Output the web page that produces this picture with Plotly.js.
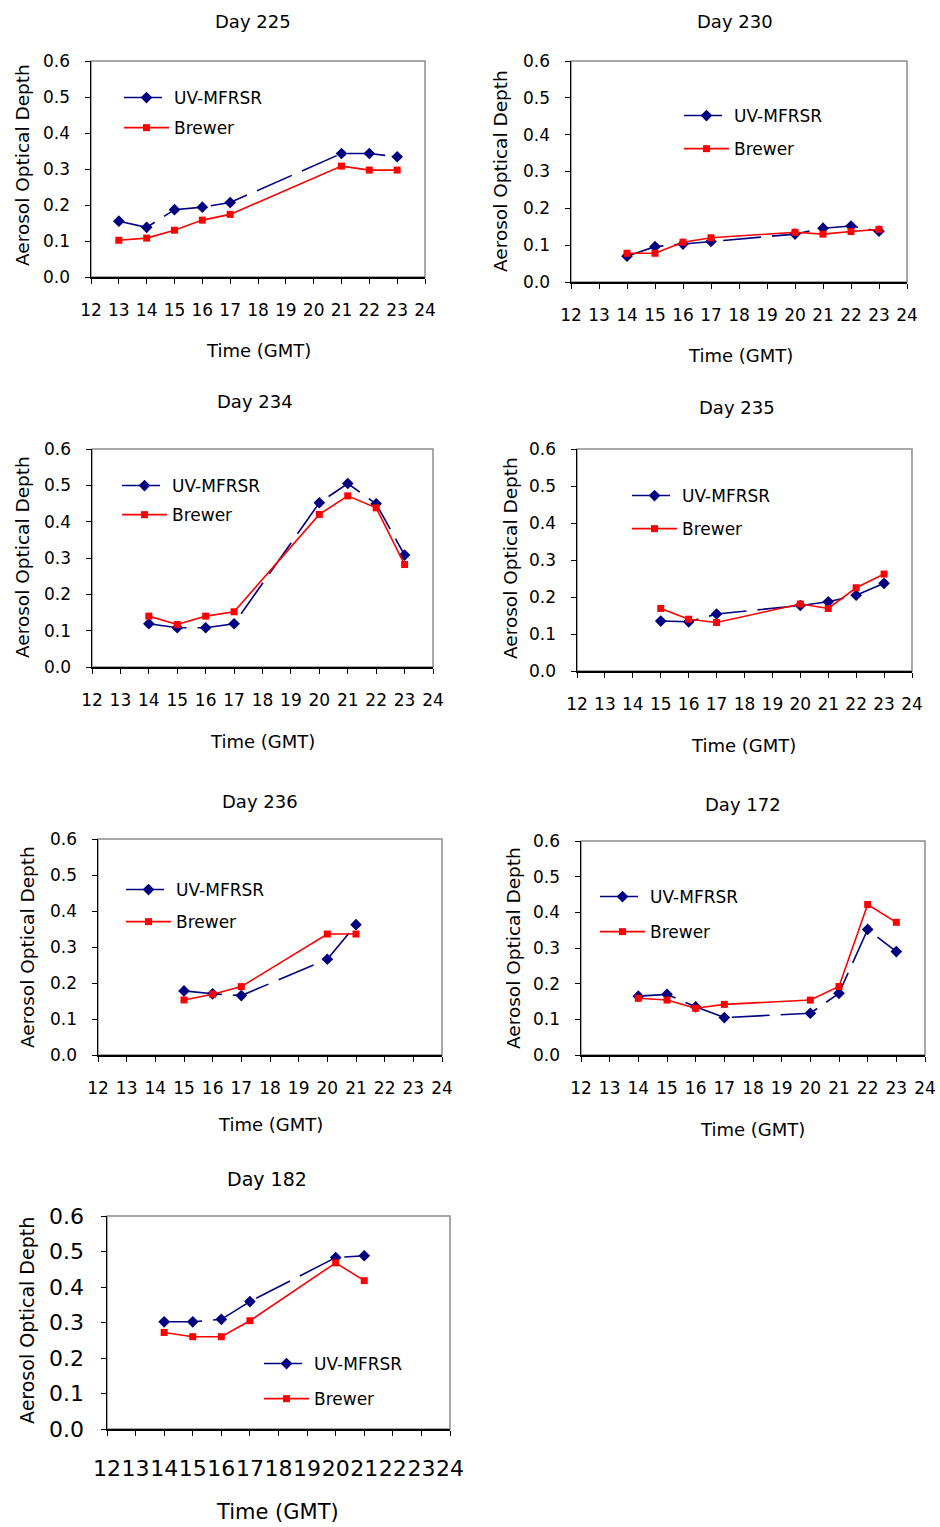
<!DOCTYPE html>
<html>
<head>
<meta charset="utf-8">
<script src="https://cdn.plot.ly/plotly-3.0.1.min.js"></script>
<style>
  html, body { margin: 0; padding: 0; background: #ffffff; }
  #chart { width: 940px; height: 1527px; }
</style>
</head>
<body>
<div id="chart"></div>
<script>
// ---------------- DATA ----------------
const seriesNames = ["UV-MFRSR", "Brewer"];
const dayLabels = ["Day 225", "Day 230", "Day 234", "Day 235", "Day 236", "Day 172", "Day 182"];
const xTickVals = [12,13,14,15,16,17,18,19,20,21,22,23,24];
const xTickText = ["12","13","14","15","16","17","18","19","20","21","22","23","24"];
const yTickVals = [0, 0.1, 0.2, 0.3, 0.4, 0.5, 0.6];

const hours225 = [13,14,15,16,17,21,22,23];
const uv225    = [0.155,0.138,0.187,0.194,0.207,0.343,0.343,0.334];
const br225    = [0.102,0.108,0.130,0.158,0.174,0.308,0.297,0.297];

const hours230 = [14,15,16,17,20,21,22,23];
const uv230    = [0.070,0.096,0.103,0.110,0.130,0.146,0.152,0.138];
const br230    = [0.078,0.078,0.108,0.120,0.135,0.130,0.137,0.143];

const hours234 = [14,15,16,17,20,21,22,23];
const uv234    = [0.119,0.108,0.108,0.119,0.452,0.505,0.449,0.308];
const br234    = [0.140,0.117,0.140,0.152,0.420,0.471,0.438,0.282];

const hours235 = [15,16,17,20,21,22,23];
const uv235    = [0.135,0.133,0.154,0.177,0.187,0.205,0.237];
const br235    = [0.169,0.140,0.131,0.181,0.169,0.225,0.262];

const hours236 = [15,16,17,20,21];
const uv236    = [0.178,0.170,0.165,0.266,0.362];
const br236    = [0.153,0.169,0.190,0.336,0.336];

const hours172 = [14,15,16,17,20,21,22,23];
const uv172    = [0.165,0.170,0.135,0.105,0.117,0.173,0.352,0.290];
const br172    = [0.159,0.154,0.131,0.142,0.154,0.192,0.422,0.372];

const hours182 = [14,15,16,17,20,21];
const uv182    = [0.302,0.302,0.309,0.359,0.483,0.488];
const br182    = [0.272,0.260,0.260,0.305,0.468,0.418];

const panelHours = [hours225, hours230, hours234, hours235, hours236, hours172, hours182];
const panelUV    = [uv225, uv230, uv234, uv235, uv236, uv172, uv182];
const panelBR    = [br225, br230, br234, br235, br236, br172, br182];

// ---------------- LAYOUT GEOMETRY (pixels) ----------------
const W = 940, H = 1527;
const geo = [
  {l:91,  r:425, t:61,   b:277,  tx:253, ty:21,   xtx:258, xty:351,  ytx:22,  yty:165,  lgx:122, lgy:97,   gap:30, big:false},
  {l:571, r:907, t:61,   b:282,  tx:735, ty:21,   xtx:740, xty:355,  ytx:501, yty:171,  lgx:682, lgy:115,  gap:33, big:false},
  {l:92,  r:433, t:449,  b:667,  tx:255, ty:401,  xtx:262, xty:741,  ytx:22,  yty:557,  lgx:120, lgy:485,  gap:29, big:false},
  {l:577, r:912, t:449,  b:671,  tx:737, ty:407,  xtx:743, xty:745,  ytx:510, yty:558,  lgx:630, lgy:495,  gap:33, big:false},
  {l:98,  r:442, t:839,  b:1055, tx:260, ty:801,  xtx:270, xty:1124, ytx:27,  yty:947,  lgx:124, lgy:889,  gap:32, big:false},
  {l:581, r:925, t:841,  b:1055, tx:743, ty:804,  xtx:752, xty:1129, ytx:513, yty:948,  lgx:598, lgy:896,  gap:35, big:false},
  {l:107, r:450, t:1216, b:1429, tx:267, ty:1179, xtx:277, xty:1512, ytx:27,  yty:1321, lgx:262, lgy:1363, gap:35, big:true}
];

const FONT = "DejaVu Sans, Arial, sans-serif";
const NAVY = "#000080", RED = "#ff0000";

const traces = [];
const layout = {
  width: W, height: H,
  margin: {l:0, r:0, t:0, b:0},
  paper_bgcolor: "#ffffff",
  plot_bgcolor: "#ffffff",
  font: {family: FONT, color: "#000000", size: 17},
  annotations: [],
  shapes: []
};

geo.forEach((g, i) => {
  const n = i + 1;
  const xa = n === 1 ? "x" : "x" + n;
  const ya = n === 1 ? "y" : "y" + n;
  const xk = n === 1 ? "xaxis" : "xaxis" + n;
  const yk = n === 1 ? "yaxis" : "yaxis" + n;
  const lk = n === 1 ? "legend" : "legend" + n;
  const tickSize = g.big ? 22 : 17;

  traces.push({
    type: "scatter", mode: "lines+markers",
    x: panelHours[i], y: panelUV[i], xaxis: xa, yaxis: ya,
    name: seriesNames[0], legend: lk, legendgroup: "uv" + n,
    line: {color: NAVY, width: 1.6, dash: "38px,11px"},
    marker: {symbol: "diamond", size: 9, color: NAVY},
    cliponaxis: false
  });
  traces.push({
    type: "scatter", mode: "lines+markers",
    x: panelHours[i], y: panelBR[i], xaxis: xa, yaxis: ya,
    name: seriesNames[1], legend: lk, legendgroup: "br" + n,
    line: {color: RED, width: 1.6},
    marker: {symbol: "square", size: 7, color: RED},
    cliponaxis: false
  });

  layout[xk] = {
    domain: [g.l / W, g.r / W],
    anchor: ya,
    range: [12, 24],
    tickmode: "array", tickvals: xTickVals, ticktext: xTickText,
    tickangle: 0,
    showgrid: false, zeroline: false,
    showline: true, linecolor: "#000000", linewidth: 1.5,
    ticks: "outside", ticklen: 5, tickwidth: 1, tickcolor: "#000000",
    ticklabelstandoff: g.big ? 14 : 12,
    tickfont: {family: FONT, size: tickSize, color: "#000000"},
    fixedrange: true
  };
  layout[yk] = {
    domain: [1 - g.b / H, 1 - g.t / H],
    anchor: xa,
    range: [0, 0.6],
    tickmode: "array", tickvals: yTickVals, tickformat: ".1f",
    showgrid: false, zeroline: false,
    showline: true, linecolor: "#000000", linewidth: 1.5,
    ticks: "outside", ticklen: 5, tickwidth: 1, tickcolor: "#000000",
    ticklabelstandoff: g.big ? 12 : 11,
    tickfont: {family: FONT, size: tickSize, color: "#000000"},
    fixedrange: true
  };

  layout[lk] = {
    x: (g.lgx - 3) / W, y: 1 - (g.lgy - 17) / H,
    xanchor: "left", yanchor: "top",
    bgcolor: "rgba(0,0,0,0)", borderwidth: 0,
    traceorder: "grouped", tracegroupgap: g.gap - 25,
    itemwidth: 45,
    font: {family: FONT, size: 17, color: "#000000"}
  };

  layout.shapes.push({
    type: "rect", xref: xa + " domain", yref: ya + " domain",
    x0: 0, x1: 1, y0: 0, y1: 1,
    line: {color: "#8c8c8c", width: 1.5}, layer: "below"
  });

  layout.annotations.push({
    text: dayLabels[i], xref: "paper", yref: "paper",
    x: g.tx / W, y: 1 - g.ty / H, xanchor: "center", yanchor: "middle",
    showarrow: false, font: {family: FONT, size: g.big ? 19 : 18, color: "#000000"}
  });
  layout.annotations.push({
    text: "Time (GMT)", xref: "paper", yref: "paper",
    x: g.xtx / W, y: 1 - g.xty / H, xanchor: "center", yanchor: "middle",
    showarrow: false, font: {family: FONT, size: g.big ? 21 : 18, color: "#000000"}
  });
  layout.annotations.push({
    text: "Aerosol Optical Depth", xref: "paper", yref: "paper",
    x: g.ytx / W, y: 1 - g.yty / H, xanchor: "center", yanchor: "middle",
    textangle: -90,
    showarrow: false, font: {family: FONT, size: g.big ? 19 : 18.5, color: "#000000"}
  });
});

Plotly.newPlot("chart", traces, layout, {staticPlot: true, displayModeBar: false});
</script>
</body>
</html>
